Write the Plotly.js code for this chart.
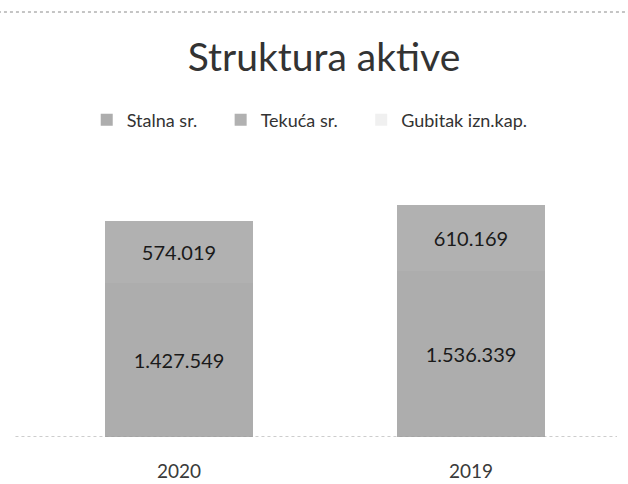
<!DOCTYPE html>
<html>
<head>
<meta charset="utf-8">
<script src="https://cdn.plot.ly/plotly-3.0.1.min.js"></script>
<style>html,body{margin:0;padding:0;background:#fff;}#chart{width:628px;height:484px;}</style>
</head>
<body>
<div id="chart"></div>
<script>
const years = ["2020", "2019"];
const stalna = [1427549, 1536339];
const tekuca = [574019, 610169];
const gubitak = [null, null];
const stalnaLabels = ["1.427.549", "1.536.339"];
const tekucaLabels = ["574.019", "610.169"];

const font = "Lato, 'Open Sans', sans-serif";
const pad = "\u00a0\u00a0\u00a0\u00a0";

const traces = [
  {
    type: "bar", name: "Stalna sr." + pad, x: years, y: stalna,
    text: stalnaLabels, textposition: "inside", insidetextanchor: "middle",
    textfont: {family: font, size: 20, color: "#1a1a1a"},
    marker: {color: "#adadad"}, hoverinfo: "skip"
  },
  {
    type: "bar", name: "Tekuća sr." + pad, x: years, y: tekuca,
    text: tekucaLabels, textposition: "inside", insidetextanchor: "middle",
    textfont: {family: font, size: 20, color: "#1a1a1a"},
    marker: {color: "#b1b1b1"}, hoverinfo: "skip"
  },
  {
    type: "bar", name: "Gubitak izn.kap.", x: years, y: gubitak,
    marker: {color: "#f0f0f0"}, hoverinfo: "skip"
  }
];

const layout = {
  width: 628, height: 484,
  margin: {l: 33, r: 11, t: 180, b: 47},
  paper_bgcolor: "#ffffff", plot_bgcolor: "#ffffff",
  barmode: "stack", bargap: 0.49,
  title: {
    text: "Struktura aktive", x: 0.516, xanchor: "center",
    y: 1 - 57/484, yanchor: "middle",
    font: {family: font, size: 39, color: "#333333"}
  },
  legend: {
    orientation: "h", x: 0.092, xanchor: "left", y: (437-120)/257, yanchor: "middle",
    font: {family: font, size: 18, color: "#333333"},
    itemwidth: 30, traceorder: "normal"
  },
  xaxis: {
    type: "category",
    showgrid: false, zeroline: false, showline: false, ticks: "",
    ticklabelstandoff: 21,
    tickfont: {family: font, size: 19, color: "#3a3a3a"}
  },
  yaxis: {
    range: [0, 2378000], visible: false, showgrid: false, zeroline: false
  },
  shapes: [
    {type: "line", xref: "paper", yref: "y", x0: -0.03, x1: 1.0, y0: 0, y1: 0,
     line: {color: "#9a9a9a", width: 1, dash: "dot"}},
    {type: "line", xref: "paper", yref: "paper", x0: -0.06, x1: 1.02, y0: (437-12)/257, y1: (437-12)/257,
     line: {color: "#8a8a8a", width: 1, dash: "dot"}}
  ],
  showlegend: true
};

Plotly.newPlot("chart", traces, layout, {displayModeBar: false, staticPlot: true});
</script>
</body>
</html>
